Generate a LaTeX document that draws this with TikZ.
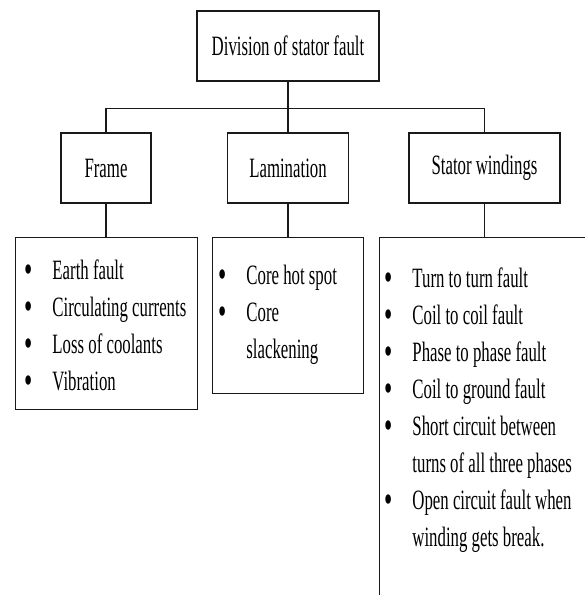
\documentclass[tikz,border=0pt]{standalone}
\usepackage{fontspec}
\setmainfont[FakeStretch=0.6]{Liberation Serif}
\usetikzlibrary{positioning}
\tikzstyle{heading} = [rectangle, minimum width=182pt, minimum height=70pt, text centered, draw=black!90, line width=1.2pt]
\tikzstyle{branch} = [rectangle, minimum height=70pt, text centered, draw=black!90, line width=1.2pt]
\tikzstyle{faultbox} = [rectangle, anchor=north west, draw=black!90, line width=1.2pt]
\tikzstyle{faultlist} = [anchor=north west, inner sep=0pt, align=left]
\tikzstyle{link} = [draw=black!90, line width=1.2pt]
\newcommand{\dotmark}{\raisebox{-3.5pt}{\scalebox{1.4}{\textbullet}}}
\newcommand{\faults}[1]{\begin{tabular}{@{}l@{\hspace{20pt}}l@{}}#1\end{tabular}}

\begin{document}
\begin{tikzpicture}[x=1pt, y=-1pt, font=\fontsize{28}{37}\selectfont]
	\useasboundingbox (0,0) rectangle (585,595);
	\clip (0,0) rectangle (585,595);
	\node (root) [heading] at (288,46) {Division of stator fault};
	\node (frame) [branch, minimum width=90pt] at (106,168) {Frame};
	\node (lam) [branch, minimum width=121pt] at (288,168) {Lamination};
	\node (stator) [branch, minimum width=151pt] at (484.5,168) {Stator windings};
	\node (framebox) [faultbox, minimum width=182pt, minimum height=172pt] at (15,237) {};
	\node (lambox) [faultbox, minimum width=151pt, minimum height=156pt] at (212,237) {};
	\node (statorbox) [faultbox, minimum width=230pt, minimum height=400pt] at (379,237) {};
	\node (framelist) [faultlist] at ([xshift=9pt, yshift=-16pt]framebox.north west) {\faults{
		\dotmark & Earth fault\\
		\dotmark & Circulating currents\\
		\dotmark & Loss of coolants\\
		\dotmark & Vibration}};
	\node (lamlist) [faultlist] at ([xshift=6pt, yshift=-21pt]lambox.north west) {\faults{
		\dotmark & Core hot spot\\
		\dotmark & Core\\
		& slackening}};
	\node (statorlist) [faultlist] at ([xshift=5pt, yshift=-24pt]statorbox.north west) {\faults{
		\dotmark & Turn to turn fault\\
		\dotmark & Coil to coil fault\\
		\dotmark & Phase to phase fault\\
		\dotmark & Coil to ground fault\\
		\dotmark & Short circuit between\\
		& turns of all three phases\\
		\dotmark & Open circuit fault when\\
		& winding gets break.}};
	\draw [link] (root) -- (lam);
	\draw [link] (frame.north) -- ++(0,-24) -| (stator.north);
	\draw [link] (frame.south) -- (frame.south |- framebox.north);
	\draw [link] (lam.south) -- (lam.south |- lambox.north);
	\draw [link] (stator.south) -- (stator.south |- statorbox.north);
\end{tikzpicture}
\end{document}
